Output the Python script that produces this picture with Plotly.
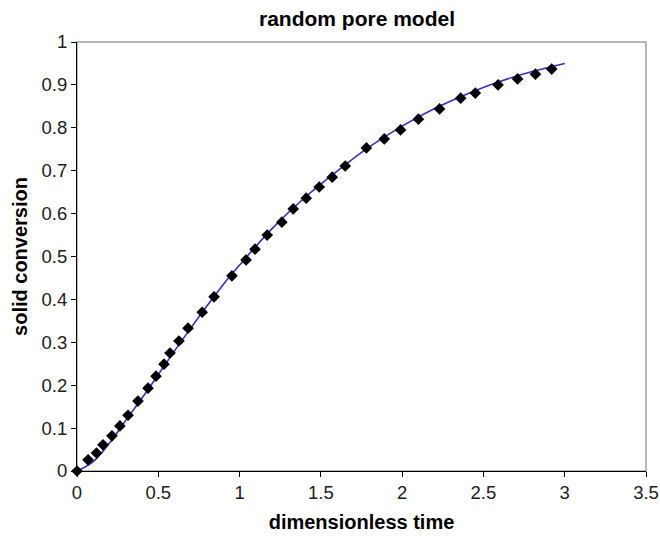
import plotly.graph_objects as go

# experimental data (diamonds)
data_t = [0.0, 0.068, 0.12, 0.16, 0.215, 0.264, 0.314, 0.375, 0.437, 0.486, 0.535, 0.572,
          0.627, 0.683, 0.77, 0.843, 0.953, 1.04, 1.095, 1.17, 1.26, 1.33, 1.41, 1.49,
          1.57, 1.65, 1.78, 1.89, 1.99, 2.10, 2.23, 2.36, 2.45, 2.59, 2.71, 2.82, 2.92]
data_x = [0.0, 0.026, 0.042, 0.061, 0.082, 0.105, 0.13, 0.163, 0.193, 0.221, 0.249, 0.275,
          0.303, 0.333, 0.37, 0.406, 0.455, 0.492, 0.517, 0.55, 0.58, 0.611, 0.636, 0.662,
          0.685, 0.711, 0.753, 0.774, 0.795, 0.82, 0.844, 0.869, 0.881, 0.9, 0.914, 0.925, 0.937]

# model curve (blue line)
model_t = [0.0, 0.1, 0.2, 0.3, 0.4, 0.5, 0.6, 0.7, 0.8, 0.9, 1.0, 1.2, 1.4, 1.6, 1.8,
           2.0, 2.2, 2.4, 2.6, 2.8, 3.0]
model_x = [0.0, 0.022, 0.065, 0.118, 0.17, 0.225, 0.28, 0.333, 0.385, 0.435, 0.48, 0.565,
           0.637, 0.699, 0.756, 0.804, 0.845, 0.879, 0.908, 0.931, 0.95]

x_ticks = [0, 0.5, 1, 1.5, 2, 2.5, 3, 3.5]
y_ticks = [0, 0.1, 0.2, 0.3, 0.4, 0.5, 0.6, 0.7, 0.8, 0.9, 1]

font = "Liberation Sans, Arial, sans-serif"

fig = go.Figure()
fig.add_trace(go.Scatter(x=model_t, y=model_x, mode="lines", line=dict(color="#3232c0", width=1.6, shape="spline"),
                         showlegend=False))
fig.add_trace(go.Scatter(x=data_t, y=data_x, mode="markers",
                         marker=dict(symbol="diamond", color="black", size=9, line=dict(width=0)),
                         showlegend=False, cliponaxis=False))

fig.add_shape(type="rect", xref="paper", yref="paper", x0=0, y0=0, x1=1, y1=1,
              line=dict(color="#a0a0a0", width=1.5), layer="below")

fig.update_layout(
    width=660, height=539,
    margin=dict(l=77, r=14, t=42, b=68),
    paper_bgcolor="white", plot_bgcolor="white",
    font=dict(family=font, color="black", size=18),
    title=dict(text="<b>random pore model</b>", x=357 / 660, xanchor="center",
               y=1 - 19 / 539, yanchor="middle", font=dict(size=21, family=font)),
    xaxis=dict(range=[0, 3.5], tickvals=x_ticks, ticktext=[str(v) for v in x_ticks],
               showgrid=False, zeroline=False, showline=True, linecolor="black", linewidth=1,
               automargin=False,
               ticks="outside", ticklen=5, tickcolor="black", tickfont=dict(size=18.5, color="#202020"),
               title=dict(text="<b>dimensionless time</b>", font=dict(size=20), standoff=12)),
    yaxis=dict(range=[0, 1], tickvals=y_ticks, ticktext=[str(v) for v in y_ticks],
               showgrid=False, zeroline=False, showline=True, linecolor="black", linewidth=1,
               automargin=False,
               ticks="outside", ticklen=5, tickcolor="black", tickfont=dict(size=18.5, color="#202020"),
               title=dict(text="<b>solid conversion</b>", font=dict(size=20), standoff=8)),
)

fig.write_html("out.html")
